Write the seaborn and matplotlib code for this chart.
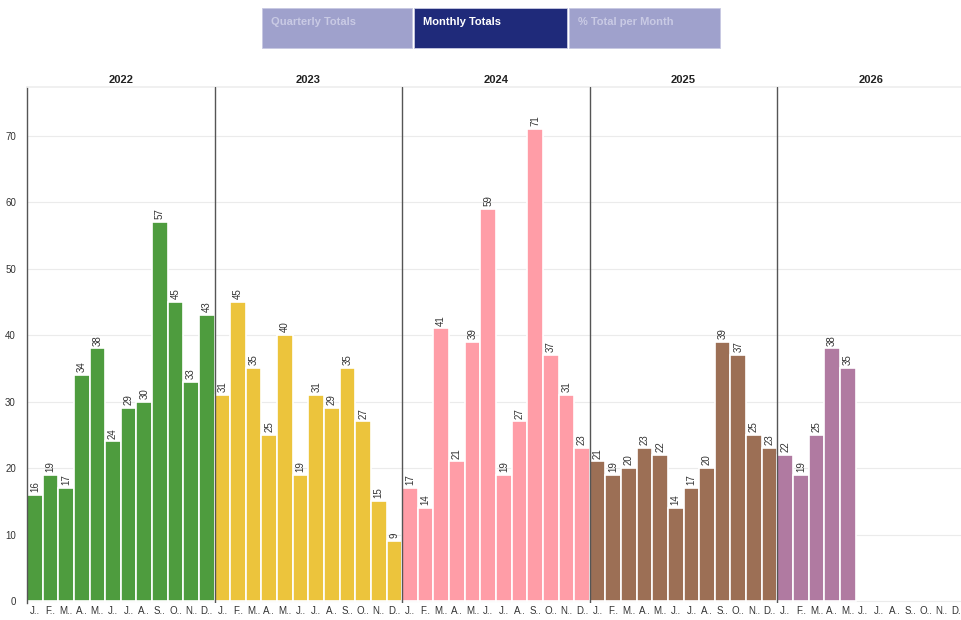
import matplotlib
matplotlib.use("Agg")
import matplotlib.pyplot as plt
import numpy as np
import pandas as pd
import seaborn as sns
from matplotlib.patches import Rectangle

sns.set_theme(style="white")
plt.rcParams["font.family"] = ["Liberation Sans", "DejaVu Sans"]

years = ["2022", "2023", "2024", "2025", "2026"]
months = ["J..", "F..", "M..", "A..", "M..", "J..", "J..", "A..", "S..", "O..", "N..", "D.."]
totals_2022 = [16, 19, 17, 34, 38, 24, 29, 30, 57, 45, 33, 43]
totals_2023 = [31, 45, 35, 25, 40, 19, 31, 29, 35, 27, 15, 9]
totals_2024 = [17, 14, 41, 21, 39, 59, 19, 27, 71, 37, 31, 23]
totals_2025 = [21, 19, 20, 23, 22, 14, 17, 20, 39, 37, 25, 23]
totals_2026 = [22, 19, 25, 38, 35]
year_colors = ["#4E9C3E", "#ECC43C", "#FF9DA7", "#9C6F55", "#B07AA1"]
buttons = ["Quarterly Totals", "Monthly Totals", "% Total per Month"]

series = [totals_2022, totals_2023, totals_2024, totals_2025, totals_2026]
rows = []
for y, vals in zip(years, series):
    for m in range(12):
        v = vals[m] if m < len(vals) else np.nan
        rows.append({"key": f"{y}-{m:02d}", "year": y, "month": months[m], "value": v})
df = pd.DataFrame(rows)

fig = plt.figure(figsize=(9.62, 6.2), dpi=100)
W, H = 962, 620
ax = fig.add_axes([27 / W, 1 - 603 / H, (965 - 27) / W, (603 - 87) / H])

sns.barplot(data=df, x="key", y="value", hue="year", order=list(df["key"]),
            hue_order=years, palette=year_colors, saturation=1, dodge=False,
            width=1.0, edgecolor="white", linewidth=1.2, legend=False, ax=ax)

for c in ax.containers:
    ax.bar_label(c, fmt="%d", rotation=90, fontsize=7, padding=2, color="#333333")

ax.set_xlim(-0.5, 59.5)
ax.set_ylim(-0.3, 77.3)
ax.set_yticks(range(0, 80, 10))
ax.set_xticks(range(60))
ax.set_xticklabels(list(df["month"]), fontsize=7, color="#333333")
ax.tick_params(axis="y", labelsize=7, colors="#333333", length=0, pad=8)
ax.tick_params(axis="x", length=0, pad=2)
ax.set_xlabel("")
ax.set_ylabel("")
ax.yaxis.grid(True, color="#ebebeb", linewidth=0.8)
ax.set_axisbelow(True)
for s in ["right", "bottom"]:
    ax.spines[s].set_visible(False)
ax.spines["top"].set_color("#eeeeee")
ax.spines["left"].set_color("#555555")
ax.spines["left"].set_linewidth(1)

for k in range(1, 5):
    ax.axvline(12 * k - 0.5, color="#555555", linewidth=1, zorder=3)

trans = ax.get_xaxis_transform()
for k, y in enumerate(years):
    ax.text(12 * k + 5.5, 1.003, y, transform=trans, ha="center", va="bottom",
            fontsize=8, fontweight="bold", color="#222222")

# toggle buttons on top
btn_x = [262, 414, 569]
btn_w = [150, 153, 151]
for i, (label, bx, bw) in enumerate(zip(buttons, btn_x, btn_w)):
    active = i == 1
    face = "#1F2A7A" if active else "#9FA1CC"
    fig.add_artist(Rectangle((bx / W, 1 - 48 / H), bw / W, 40 / H,
                             transform=fig.transFigure, facecolor=face,
                             edgecolor="#c8c9e2", linewidth=0.6))
    fig.text((bx + 9) / W, 1 - 22 / H, label, fontsize=8, fontweight="bold",
             color="white" if active else "#c9cae4", ha="left", va="center")

fig.savefig("out.png", dpi=100)
